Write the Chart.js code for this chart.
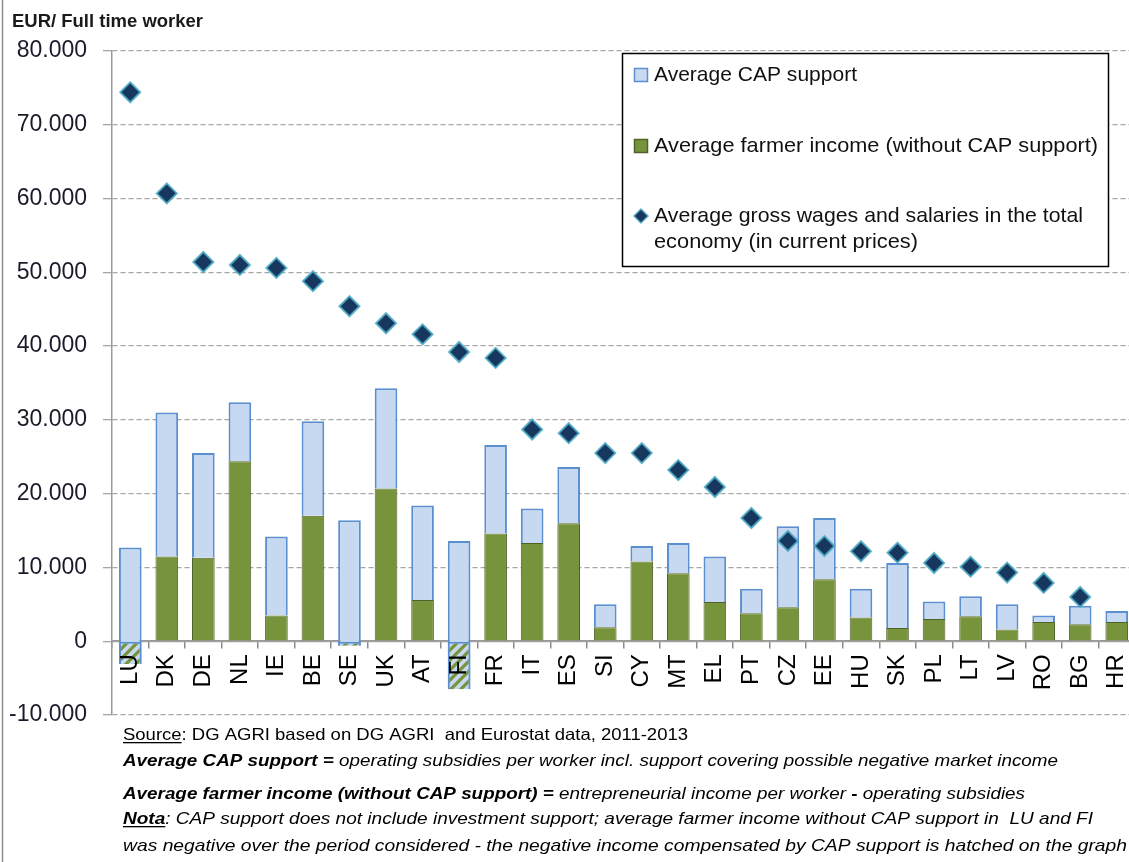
<!DOCTYPE html>
<html><head><meta charset="utf-8">
<script src="https://cdn.jsdelivr.net/npm/chart.js@4.4.1/dist/chart.umd.min.js"></script>
<style>html,body{margin:0;padding:0;background:#fff;overflow:hidden}#wrap{position:relative;width:1129px;height:862px;overflow:hidden}canvas{display:block}</style>
</head><body><div id="wrap"><canvas id="c" width="1135" height="862"></canvas></div>
<script>
// ---- data (EUR per full time worker) ----
const countries = ['LU','DK','DE','NL','IE','BE','SE','UK','AT','FI','FR','IT','ES','SI','CY','MT','EL','PT','CZ','EE','HU','SK','PL','LT','LV','RO','BG','HR'];
const farmerIncome = [-3100,11500,11300,24400,3500,17000,-600,20700,5600,-6500,14600,13300,16000,1900,10800,9200,5300,3800,4600,8400,3200,1800,3000,3400,1600,2600,2300,2600];
const capSupport = [15800,19500,14200,8000,10700,12800,17000,13600,12800,20100,12000,4700,7600,3100,2100,4100,6200,3300,11000,8300,3900,8800,2400,2700,3400,900,2500,1500];
const grossWages = [74400,60700,51400,51000,50600,48800,45400,43100,41600,39200,38400,28700,28200,25500,25500,23200,20900,16700,13600,12900,12200,12000,10600,10100,9300,7900,6000,null];
const yTickValues = [-10000,0,10000,20000,30000,40000,50000,60000,70000,80000];
const axisTitle = 'EUR/ Full time worker';
const legendLabels = ['Average CAP support','Average farmer income (without CAP support)',['Average gross wages and salaries in the total','economy (in current prices)']];
const footLines = [
  [{t:'Source',u:1},{t:': DG AGRI based on DG AGRI  and Eurostat data, 2011-2013'}],
  [{t:'Average CAP support = ',b:1,i:1},{t:'operating subsidies per worker incl. support covering possible negative market income',i:1}],
  [{t:'Average farmer income (without CAP support) = ',b:1,i:1},{t:'entrepreneurial income per worker ',i:1},{t:'-',b:1},{t:' operating subsidies',i:1}],
  [{t:'Nota',b:1,i:1,u:1},{t:': CAP support does not include investment support; average farmer income without CAP support in  LU and FI',i:1}],
  [{t:'was negative over the period considered - the negative income compensated by CAP support is hatched on the graph',i:1}]
];

// ---- styles ----
const CAP_FILL='#C6D9F1', CAP_LINE='#5B8FD0', GREEN='#77933C', GREEN_LINE='#4F6228', NAVY='#17375E', GLOW='rgba(75,172,198,0.85)';
function hatchPattern(){
  const c=document.createElement('canvas'); c.width=10; c.height=10;
  const g=c.getContext('2d'); g.fillStyle=CAP_FILL; g.fillRect(0,0,10,10);
  g.strokeStyle=GREEN; g.lineWidth=3.2; g.beginPath();
  g.moveTo(-5,5); g.lineTo(5,-5); g.moveTo(0,10); g.lineTo(10,0); g.moveTo(5,15); g.lineTo(15,5); g.stroke();
  return document.getElementById('c').getContext('2d').createPattern(c,'repeat');
}
const hatch = hatchPattern();

const FONT='"Liberation Sans", Arial, sans-serif';
const NARROW='"Liberation Sans Narrow", "Liberation Sans", Arial, sans-serif';

function fitText(ctx,text,x,y,target){
  const w=ctx.measureText(text).width; const sx=target? target/w:1;
  ctx.save(); ctx.translate(x,y); ctx.scale(sx,1); ctx.fillText(text,0,0); ctx.restore();
}

const decor = {
  id:'decor',
  afterDraw(chart){
    const ctx=chart.ctx; ctx.save();
    // left border
    ctx.strokeStyle='#8c8c8c'; ctx.lineWidth=1.5; ctx.beginPath(); ctx.moveTo(2.5,0); ctx.lineTo(2.5,862); ctx.stroke();
    // axis title
    ctx.fillStyle='#1a1a1a'; ctx.font='bold 18px '+FONT; ctx.textBaseline='middle'; ctx.textAlign='left';
    fitText(ctx,axisTitle,12,22,191);
    // legend
    ctx.fillStyle='#fff'; ctx.fillRect(622,53,487,214);
    ctx.strokeStyle='#000'; ctx.lineWidth=1.5; ctx.strokeRect(622.5,53.5,486,213);
    ctx.fillStyle=CAP_FILL; ctx.fillRect(634,68,14,14); ctx.strokeStyle=CAP_LINE; ctx.lineWidth=1.5; ctx.strokeRect(634.5,68.5,13,13);
    ctx.fillStyle=GREEN; ctx.fillRect(634,139,14,14); ctx.strokeStyle=GREEN_LINE; ctx.strokeRect(634.5,139.5,13,13);
    ctx.beginPath(); ctx.moveTo(641,209); ctx.lineTo(648,216); ctx.lineTo(641,223); ctx.lineTo(634,216); ctx.closePath();
    ctx.fillStyle=NAVY; ctx.fill(); ctx.strokeStyle=GLOW; ctx.lineWidth=1.5; ctx.stroke();
    ctx.fillStyle='#111'; ctx.font='21px '+FONT; ctx.textBaseline='middle';
    fitText(ctx,legendLabels[0],654,75,203);
    fitText(ctx,legendLabels[1],654,146,444);
    fitText(ctx,legendLabels[2][0],654,216,429);
    fitText(ctx,legendLabels[2][1],654,242,264);
    // footnotes
    const targets=[565,935,902,970,1004], bases=[740,766,799,824,851];
    footLines.forEach((segs,li)=>{
      let w=0; segs.forEach(s=>{ctx.font=(s.i?'italic ':'')+(s.b?'bold ':'')+'16.5px '+NARROW; s.w=ctx.measureText(s.t).width; w+=s.w;});
      const sx=targets[li]/w;
      ctx.save(); ctx.translate(123,bases[li]); ctx.scale(sx,1);
      let x=0; ctx.fillStyle='#000'; ctx.textBaseline='alphabetic';
      segs.forEach(s=>{
        ctx.font=(s.i?'italic ':'')+(s.b?'bold ':'')+'16.5px '+NARROW; ctx.fillText(s.t,x,0);
        if(s.u){ctx.fillRect(x,2,s.w,1.3);}
        x+=s.w;
      });
      ctx.restore();
    });
    ctx.restore();
  }
};

new Chart(document.getElementById('c'),{
  data:{
    labels:countries,
    datasets:[
      {type:'line',label:'wages',data:grossWages,showLine:false,pointStyle:'rectRot',pointRadius:10,pointHoverRadius:10,
        backgroundColor:NAVY,borderColor:GLOW,pointBorderWidth:2,clip:false},
      {type:'bar',label:'neg',data:farmerIncome.map(v=>v<0?[v,0]:null),backgroundColor:hatch,borderColor:CAP_LINE,borderWidth:2,borderSkipped:'top'},
      {type:'bar',label:'income',data:farmerIncome.map(v=>v>0?[0,v]:null),backgroundColor:GREEN,borderColor:GREEN_LINE,borderWidth:1},
      {type:'bar',label:'cap',data:farmerIncome.map((v,i)=>[v,v+capSupport[i]]),backgroundColor:CAP_FILL,borderColor:CAP_LINE,borderWidth:2}
    ]
  },
  options:{
    responsive:false,animation:false,
    layout:{autoPadding:false,padding:{left:0,right:0,top:51,bottom:147}},
    datasets:{bar:{barPercentage:0.62,categoryPercentage:1}},
    plugins:{legend:{display:false},tooltip:{enabled:false}},
    scales:{
      x:{type:'category',stacked:true,position:{y:0},offset:true,
        afterFit(s){s.paddingLeft=0;s.paddingRight=0;},
        grid:{drawOnChartArea:false,drawTicks:true,tickLength:7,offset:true,color:'#8c8c8c',tickColor:'#8c8c8c',lineWidth:1.5},
        border:{display:true,color:'#9a9a9a',width:1.5},
        ticks:{z:1,minRotation:90,maxRotation:90,autoSkip:false,padding:6,color:'#000',font:{family:FONT,size:24}}},
      y:{stacked:false,min:-10000,max:80000,
        afterFit(s){s.width=112;s.paddingTop=0;s.paddingBottom=0;},
        afterBuildTicks(s){s.ticks=yTickValues.map(v=>({value:v}));},
        grid:{color:'#A6A6A6',lineWidth:1.3,tickLength:9,tickColor:'#A6A6A6',tickBorderDash:[]},
        border:{display:true,color:'#9a9a9a',width:1.5,dash:ctx=>(ctx.tick&&ctx.tick.value!==0)?[5,3]:[]},
        ticks:{padding:16,color:'#1a1a2a',font:{family:FONT,size:23},
          callback:v=>v===0?'0':(v/1000)+'.000'}}
    }
  },
  plugins:[decor]
});
</script></body></html>
